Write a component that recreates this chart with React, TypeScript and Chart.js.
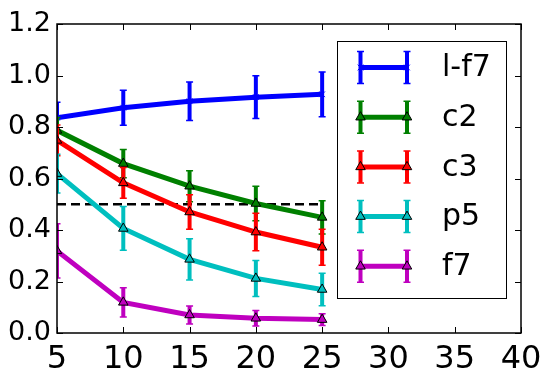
import { useEffect, useRef } from 'react';
import { Chart, registerables } from 'chart.js';
import { drawPoint } from 'chart.js/helpers';

Chart.register(...registerables);

const xValues = [5, 10, 15, 20, 25];
const seriesNames = ['l-f7', 'c2', 'c3', 'p5', 'f7'];
const lf7 = [0.836, 0.875, 0.9, 0.916, 0.927];
const lf7Err = [0.06, 0.068, 0.075, 0.083, 0.087];
const c2 = [0.787, 0.658, 0.57, 0.503, 0.449];
const c2Err = [0.05, 0.055, 0.06, 0.067, 0.065];
const c3 = [0.748, 0.583, 0.47, 0.392, 0.333];
const c3Err = [0.06, 0.06, 0.067, 0.073, 0.07];
const p5 = [0.619, 0.406, 0.286, 0.212, 0.169];
const p5Err = [0.075, 0.085, 0.08, 0.07, 0.063];
const f7 = [0.319, 0.119, 0.07, 0.057, 0.052];
const f7Err = [0.105, 0.057, 0.035, 0.03, 0.023];
const threshold = 0.5;
const thresholdX = [5, 25];
const xTickRange = [5, 40];
const yTickRange = [0, 1.2];

const seriesValues = [lf7, c2, c3, p5, f7];
const seriesErrors = [lf7Err, c2Err, c3Err, p5Err, f7Err];
const colors = ['#0000ff', '#008000', '#ff0000', '#00bfbf', '#bf00bf'];
const markers = ['crossRot', 'triangle', 'triangle', 'triangle', 'triangle'];

const FONT = '"DejaVu Sans", sans-serif';

export default function App() {
  const ref = useRef<HTMLCanvasElement>(null);

  useEffect(() => {
    document.body.style.margin = '0';

    const seriesDatasets = seriesNames.map((name, i) => ({
      label: name,
      data: xValues.map((x, j) => ({ x, y: seriesValues[i][j] })),
      borderColor: colors[i],
      backgroundColor: colors[i],
      borderWidth: 5,
      pointStyle: markers[i],
      pointRadius: i === 0 ? 4 : 5.5,
      pointBackgroundColor: colors[i],
      pointBorderColor: i === 0 ? colors[i] : '#000000',
      pointBorderWidth: 1,
      tension: 0,
      order: 5 - i,
      errors: seriesErrors[i],
    }));

    const dashed = {
      label: 'threshold',
      data: thresholdX.map((x) => ({ x, y: threshold })),
      borderColor: '#000000',
      borderWidth: 2.7,
      borderDash: [9, 5],
      pointRadius: 0,
      order: 10,
    };

    const drawBar = (ctx: any, x: number, top: number, bot: number) => {
      ctx.lineWidth = 4;
      ctx.beginPath();
      ctx.moveTo(x, top);
      ctx.lineTo(x, bot);
      ctx.stroke();
      ctx.lineWidth = 1.5;
      ctx.beginPath();
      ctx.moveTo(x - 3.5, top);
      ctx.lineTo(x + 3.5, top);
      ctx.moveTo(x - 3.5, bot);
      ctx.lineTo(x + 3.5, bot);
      ctx.stroke();
    };

    const errorBarPlugin = {
      id: 'errorBars',
      beforeDatasetDraw(chart: any, args: any) {
        const ds = chart.data.datasets[args.index];
        if (!ds.errors) return;
        const meta = args.meta;
        const y = chart.scales.y;
        const ctx = chart.ctx;
        const area = chart.chartArea;
        ctx.save();
        ctx.beginPath();
        ctx.rect(area.left, area.top, area.right - area.left, area.bottom - area.top);
        ctx.clip();
        ctx.strokeStyle = ds.borderColor;
        meta.data.forEach((pt: any, j: number) => {
          const v = ds.data[j].y;
          const e = ds.errors[j];
          drawBar(ctx, pt.x, y.getPixelForValue(v + e), y.getPixelForValue(v - e));
        });
        ctx.restore();
      },
    };

    const framePlugin = {
      id: 'frame',
      afterDatasetsDraw(chart: any) {
        const ctx = chart.ctx;
        const a = chart.chartArea;
        ctx.save();
        ctx.strokeStyle = '#000000';
        ctx.lineWidth = 1;
        const tl = 6;
        chart.scales.x.ticks.forEach((t: any) => {
          const px = Math.round(chart.scales.x.getPixelForValue(t.value)) + 0.5;
          ctx.beginPath();
          ctx.moveTo(px, a.bottom);
          ctx.lineTo(px, a.bottom - tl);
          ctx.moveTo(px, a.top);
          ctx.lineTo(px, a.top + tl);
          ctx.stroke();
        });
        chart.scales.y.ticks.forEach((t: any) => {
          const py = Math.round(chart.scales.y.getPixelForValue(t.value)) + 0.5;
          ctx.beginPath();
          ctx.moveTo(a.left, py);
          ctx.lineTo(a.left + tl, py);
          ctx.moveTo(a.right, py);
          ctx.lineTo(a.right - tl, py);
          ctx.stroke();
        });
        ctx.lineWidth = 1.5;
        ctx.strokeRect(a.left, a.top, a.right - a.left, a.bottom - a.top);
        ctx.restore();
      },
      afterDraw(chart: any) {
        const ctx = chart.ctx;
        const a = chart.chartArea;
        const w = 169;
        const h = 257;
        const lx = a.right - 15 - w;
        const ly = a.top + 17;
        ctx.save();
        ctx.fillStyle = '#ffffff';
        ctx.fillRect(lx, ly, w, h);
        ctx.strokeStyle = '#000000';
        ctx.lineWidth = 1;
        ctx.strokeRect(Math.round(lx) + 0.5, Math.round(ly) + 0.5, w, h);
        const rowH = 49.7;
        seriesNames.forEach((name, i) => {
          const cy = ly + 26.5 + i * rowH;
          const x1 = lx + 23.5;
          const x2 = lx + 70;
          ctx.strokeStyle = colors[i];
          ctx.lineWidth = 5;
          ctx.beginPath();
          ctx.moveTo(x1, cy);
          ctx.lineTo(x2, cy);
          ctx.stroke();
          [x1, x2].forEach((x) => {
            ctx.strokeStyle = colors[i];
            drawBar(ctx, x, cy - 16, cy + 16);
            ctx.fillStyle = colors[i];
            ctx.strokeStyle = i === 0 ? colors[i] : '#000000';
            ctx.lineWidth = 1;
            drawPoint(ctx, { pointStyle: markers[i], radius: i === 0 ? 4 : 5.5, borderWidth: 1, rotation: 0 } as any, x, cy);
          });
          ctx.fillStyle = '#000000';
          ctx.font = `30px ${FONT}`;
          ctx.textBaseline = 'middle';
          ctx.textAlign = 'left';
          ctx.fillText(name, lx + 105, cy + 1);
        });
        ctx.restore();
      },
    };

    const chart = new Chart(ref.current!, {
      type: 'line',
      data: { datasets: [...seriesDatasets, dashed] as any },
      options: {
        responsive: false,
        animation: false,
        devicePixelRatio: 1,
        layout: { padding: { top: 24, right: 30, left: 0, bottom: 0 } },
        plugins: { legend: { display: false }, tooltip: { enabled: false } },
        scales: {
          x: {
            type: 'linear',
            min: xTickRange[0],
            max: xTickRange[1],
            ticks: {
              stepSize: 5,
              color: '#000000',
              padding: 7,
              font: { family: FONT, size: 32 },
              maxRotation: 0,
            },
            grid: { display: false, drawTicks: false },
            border: { display: false },
            afterFit(s: any) {
              s.height = 50;
            },
          },
          y: {
            type: 'linear',
            min: yTickRange[0],
            max: yTickRange[1],
            ticks: {
              stepSize: 0.2,
              color: '#000000',
              padding: 6,
              font: { family: FONT, size: 27 },
              callback: (v: any) => Number(v).toFixed(1),
            },
            grid: { display: false, drawTicks: false },
            border: { display: false },
            afterFit(s: any) {
              s.width = 57;
            },
          },
        },
      },
      plugins: [errorBarPlugin, framePlugin],
    });
    return () => chart.destroy();
  }, []);

  return <canvas ref={ref} width={551} height={383} style={{ display: 'block' }} />;
}
